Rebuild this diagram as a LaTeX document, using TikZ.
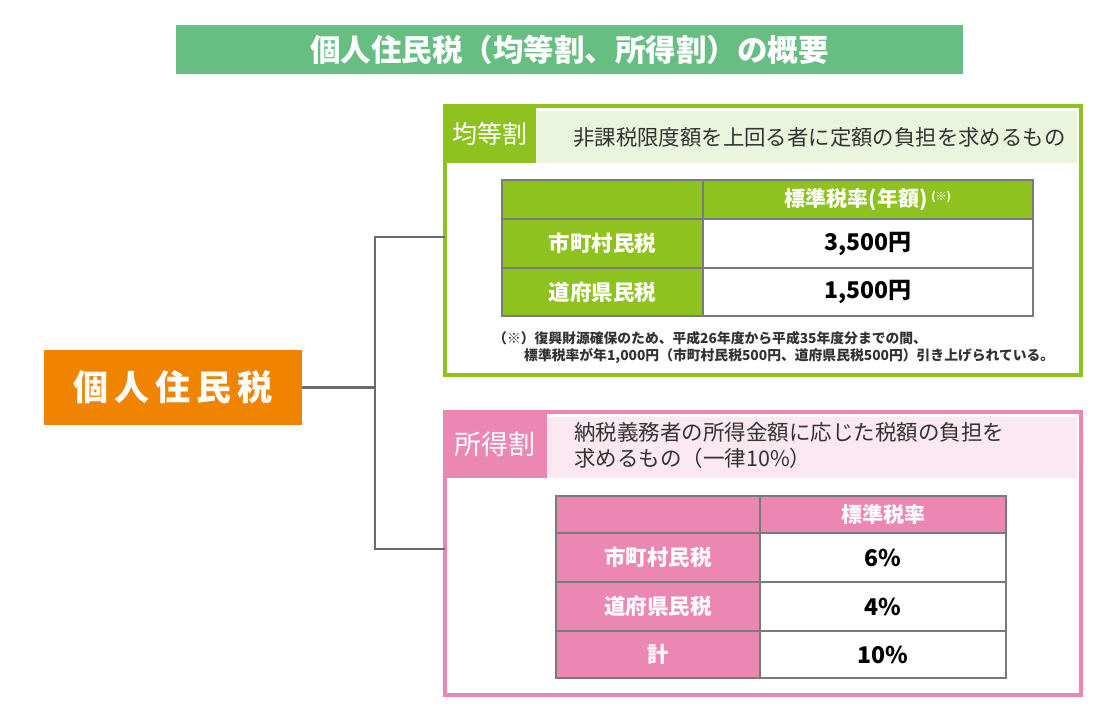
\documentclass[tikz,border=0pt]{standalone}
\usepackage{fontspec}
\newfontfamily\jp{Noto Sans CJK JP}
\definecolor{banner}{HTML}{66BE82}
\definecolor{orng}{HTML}{F08300}
\definecolor{lime}{HTML}{8DC21F}
\definecolor{limelt}{HTML}{EBF4DC}
\definecolor{pnk}{HTML}{EC87B3}
\definecolor{pnklt}{HTML}{FCE8F0}
\definecolor{conn}{HTML}{6B6B6B}
\definecolor{grid}{HTML}{7A7A7A}
\definecolor{txt}{HTML}{333333}
\tikzset{
  box/.style={anchor=north west, inner sep=0pt, outer sep=0pt},
  frame/.style={box, draw=#1, line width=4pt, fill=white},
  connector/.style={draw=conn, line width=2.6pt},
  cell/.style={box, draw=grid, line width=1.2pt},
  hcell/.style={cell, fill=#1, text=white, font=\jp\bfseries\fontsize{21}{24}\selectfont},
  lcell/.style={cell, fill=#1, text=white, font=\jp\bfseries\fontsize{21.5}{24}\selectfont},
  vcell/.style={cell, fill=white, text=black, font=\jp\bfseries\fontsize{23}{26}\selectfont},
  notetext/.style={anchor=west, inner sep=0pt, text=txt, font=\jp\bfseries\fontsize{13.8}{16}\selectfont},
}
\begin{document}
\begin{tikzpicture}[x=1pt,y=-1pt]
\useasboundingbox (0,0) rectangle (1120,715);
% title
\node[box, fill=banner, minimum width=787pt, minimum height=49pt] (title) at (176,25) {};
\node[text=white, font=\jp\bfseries\fontsize{30.5}{34}\selectfont] (titletext) at (title.center) {個人住民税（均等割、所得割）の概要};
% root
\node[box, fill=orng, minimum width=258pt, minimum height=75pt, text=white,
  font=\jp\bfseries\fontsize{35}{40}\selectfont] (root) at (44,350) {個\,人\,住\,民\,税};
% frames
\node[frame=lime, minimum width=636pt, minimum height=269pt] (gbox) at (445,106) {};
\node[frame=pnk, minimum width=636pt, minimum height=283pt] (pbox) at (445,412) {};
% connectors
\coordinate (ja) at (375,237);
\coordinate (jb) at (375,549);
\draw[connector] (root.east) -- (root.east -| ja);
\draw[connector] (gbox.west |- ja) -- (ja) -- (jb) -- (pbox.west |- jb);
% green header
\node[box, fill=limelt, minimum width=541pt, minimum height=52pt] (gdesc) at (536,111) {};
\node[box, fill=lime, minimum width=93pt, minimum height=59pt, text=white,
  font=\jp\fontsize{25}{28}\selectfont] (glabel) at (443,104) {均等割};
\node[anchor=west, text=txt, font=\jp\fontsize{21.4}{24}\selectfont, inner sep=0pt] (gdesctext) at (573,137) {非課税限度額を上回る者に定額の負担を求めるもの};
% green table
\node[hcell=lime, minimum width=201pt, minimum height=39pt] (g00) at (502,180) {};
\node[hcell=lime, minimum width=330pt, minimum height=39pt] (g01) at (703,180) {標準税率(年額)\,\raisebox{0.5ex}{\fontsize{11}{12}\selectfont (※)}};
\node[lcell=lime, minimum width=201pt, minimum height=49pt] (g10) at (502,219) {市町村民税};
\node[vcell, minimum width=330pt, minimum height=49pt] (g11) at (703,219) {3,500円};
\node[lcell=lime, minimum width=201pt, minimum height=48pt] (g20) at (502,268) {道府県民税};
\node[vcell, minimum width=330pt, minimum height=48pt] (g21) at (703,268) {1,500円};
% note
\node[notetext] (note1) at (493,338) {（※）復興財源確保のため、平成26年度から平成35年度分までの間、};
\node[notetext] (note2) at (524,356) {標準税率が年1,000円（市町村民税500円、道府県民税500円）引き上げられている。};
% pink header
\node[box, fill=pnklt, minimum width=530pt, minimum height=61pt] (pdesc) at (547,417) {};
\node[box, fill=pnk, minimum width=104pt, minimum height=68pt, text=white,
  font=\jp\fontsize{27}{30}\selectfont] (plabel) at (443,410) {所得割};
\node[anchor=north west, text=txt, font=\jp\fontsize{21.5}{26}\selectfont, inner sep=0pt, align=left] (pdesctext) at (574,422) {納税義務者の所得金額に応じた税額の負担を\\求めるもの（一律10\%）};
% pink table
\node[hcell=pnk, minimum width=204pt, minimum height=37pt] (p00) at (556,496) {};
\node[hcell=pnk, minimum width=246pt, minimum height=37pt] (p01) at (760,496) {標準税率};
\node[lcell=pnk, minimum width=204pt, minimum height=49pt] (p10) at (556,533) {市町村民税};
\node[vcell, minimum width=246pt, minimum height=49pt] (p11) at (760,533) {6\%};
\node[lcell=pnk, minimum width=204pt, minimum height=49pt] (p20) at (556,582) {道府県民税};
\node[vcell, minimum width=246pt, minimum height=49pt] (p21) at (760,582) {4\%};
\node[lcell=pnk, minimum width=204pt, minimum height=47pt] (p30) at (556,631) {計};
\node[vcell, minimum width=246pt, minimum height=47pt] (p31) at (760,631) {10\%};
\end{tikzpicture}
\end{document}
